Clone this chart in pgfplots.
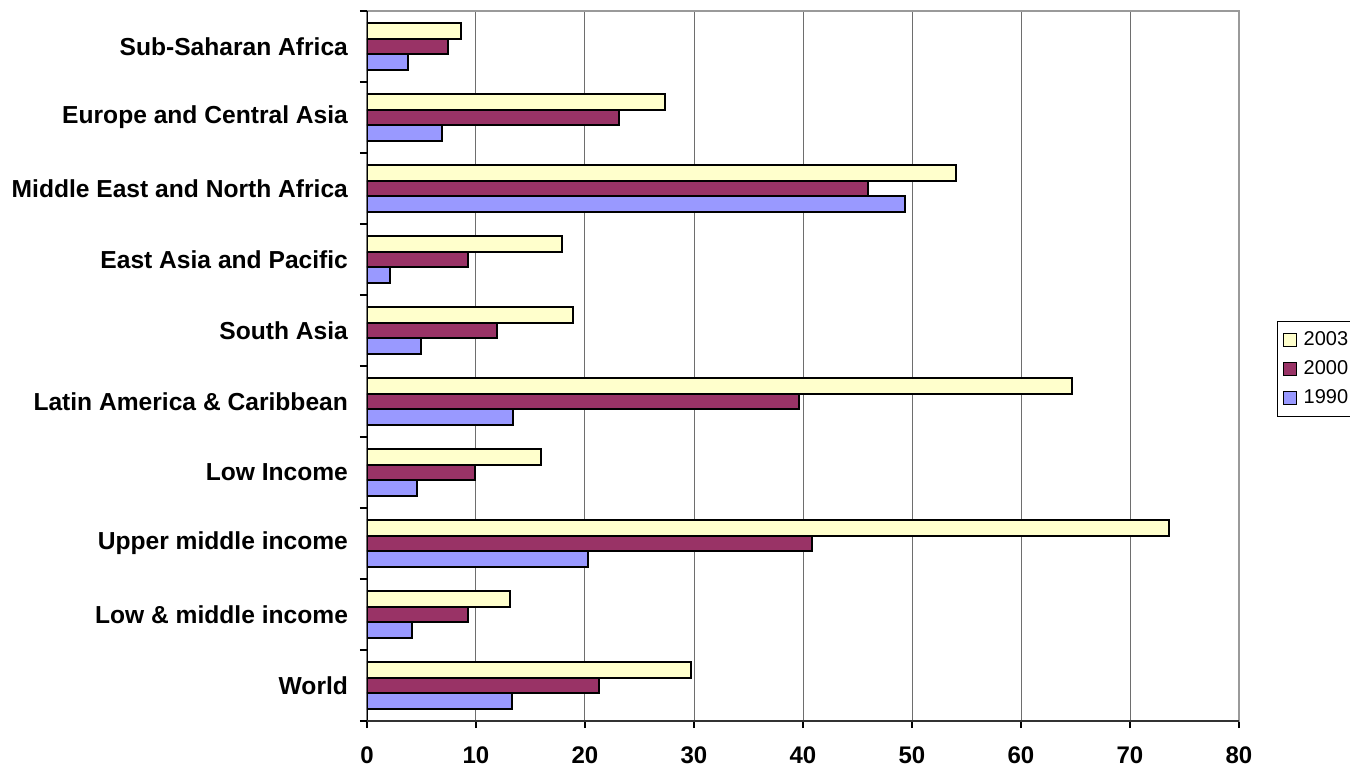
\documentclass[border=0pt]{standalone}
\usepackage{pgfplots}
\pgfplotsset{compat=1.18}
\usepackage{fontspec}
\setmainfont{Liberation Sans}
\definecolor{cYel}{HTML}{FFFFCC}
\definecolor{cMar}{HTML}{993366}
\definecolor{cBlu}{HTML}{9999FF}
\definecolor{cGrid}{HTML}{6E6E6E}
\definecolor{cFrame}{HTML}{9A9A9A}
\begin{document}
\begin{tikzpicture}
\begin{axis}[
  at={(183.5pt,23pt)}, anchor=south west,
  scale only axis, width=436pt, height=355pt,
  xbar, bar width=7.75pt,
  xmin=0, xmax=80, ymin=-0.5, ymax=9.5,
  xtick={0,10,...,80},
  xtick pos=bottom, ytick pos=left,
  xmajorgrids, grid style={draw=cGrid, line width=0.5pt},
  axis line style={draw=cFrame, line width=0.8pt},
  ytick={0,...,9},
  yticklabels={World, Low \& middle income, Upper middle income, Low Income, Latin America \& Caribbean, South Asia, East Asia and Pacific, Middle East and North Africa, Europe and Central Asia, Sub-Saharan Africa},
  major tick length=3.5pt,
  tick align=outside,
  ytick style={draw=none},
  extra y ticks={-0.5,0.5,...,9.5},
  extra y tick labels={},
  extra y tick style={ytick pos=left, ytick style={draw=black, line width=0.6pt}, ymajorgrids=false},
  xtick style={draw=black, line width=0.6pt},
  yticklabel style={font=\bfseries\fontsize{12.3}{14}\selectfont, xshift=-2.5pt},
  xticklabel style={font=\bfseries\fontsize{12}{14}\selectfont, yshift=-6pt},
  /pgf/number format/assume math mode=true,
  legend style={at={(1.0436,0.563)}, anchor=north west, draw=black, line width=0.5pt,
    font=\fontsize{10}{12.5}\selectfont, row sep=2pt, column sep=1.5pt, inner xsep=2.5pt, inner ysep=3pt},
  legend cell align=left,
  legend image code/.code={\draw[#1, line width=0.6pt] (0pt,-3.25pt) rectangle (6.5pt,3.25pt);},
]
\addplot[fill=cYel, draw=black, line width=1pt, bar shift=7.75pt] coordinates {
 (29.7,0) (13.1,1) (73.6,2) (16.0,3) (64.7,4) (18.9,5) (17.9,6) (54.0,7) (27.3,8) (8.6,9)};
\addlegendentry{2003}
\addplot[fill=cMar, draw=black, line width=1pt, bar shift=0pt] coordinates {
 (21.3,0) (9.3,1) (40.8,2) (9.9,3) (39.6,4) (11.9,5) (9.3,6) (46.0,7) (23.1,8) (7.4,9)};
\addlegendentry{2000}
\addplot[fill=cBlu, draw=black, line width=1pt, bar shift=-7.75pt] coordinates {
 (13.3,0) (4.1,1) (20.3,2) (4.6,3) (13.4,4) (5.0,5) (2.1,6) (49.4,7) (6.9,8) (3.8,9)};
\addlegendentry{1990}
\draw[black, line width=0.8pt] (rel axis cs:0,0) -- (rel axis cs:0,1);
\draw[black!80, line width=0.8pt] (rel axis cs:0,0) -- (rel axis cs:1,0);
\end{axis}
\pgfresetboundingbox
\path[use as bounding box] (0,0) rectangle (675pt,383.5pt);
\end{tikzpicture}
\end{document}
